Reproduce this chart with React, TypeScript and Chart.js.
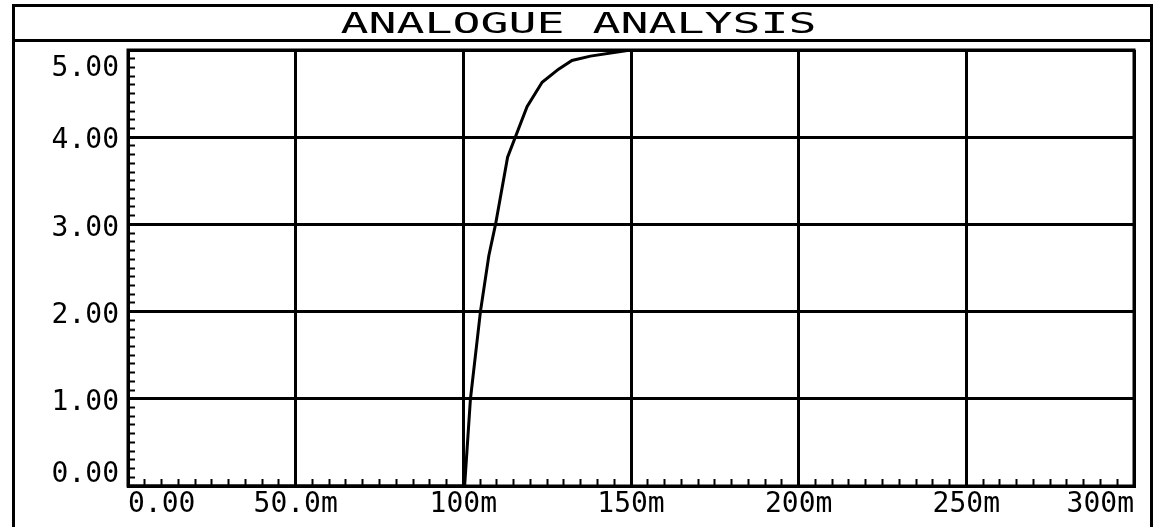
import { useEffect, useRef } from 'react';
import { Chart, registerables } from 'chart.js';

Chart.register(...registerables);

const TITLE = 'ANALOGUE ANALYSIS';

// time in ms, voltage in V
const timeMs = [0, 100, 100.4, 102.1, 105.1, 107.6, 109.6, 113.2, 119.0, 123.5, 128.4, 132.4, 137.9, 149.9, 175, 200, 250, 300];
const volts = [0, 0, 0.01, 0.99, 2.0, 2.64, 3.0, 3.77, 4.35, 4.63, 4.78, 4.88, 4.93, 5.0, 5.0, 5.0, 5.0, 5.0];

const xTickValues = [0, 50, 100, 150, 200, 250, 300];
const xTickLabels = ['0.00', '50.0m', '100m', '150m', '200m', '250m', '300m'];
const yTickValues = [0, 1, 2, 3, 4, 5];
const yTickLabels = ['0.00', '1.00', '2.00', '3.00', '4.00', '5.00'];

const FONT_FAMILY = '"DejaVu Sans Mono", monospace';
const FONT_SIZE = 28;

function findMajor(values: number[], v: number) {
  return values.findIndex((m) => Math.abs(m - v) < 1e-6);
}

const framePlugin = {
  id: 'proteusFrame',
  afterDraw(chart: any) {
    const { ctx, chartArea: a, height } = chart;
    ctx.save();
    ctx.strokeStyle = '#000';
    ctx.lineWidth = 3;
    ctx.beginPath();
    ctx.moveTo(13.5, height + 3);
    ctx.lineTo(13.5, 5.5);
    ctx.lineTo(1151.5, 5.5);
    ctx.lineTo(1151.5, height + 3);
    ctx.moveTo(13.5, 40.5);
    ctx.lineTo(1151.5, 40.5);
    ctx.stroke();
    ctx.strokeRect(a.left, a.top, a.right - a.left, a.bottom - a.top);
    ctx.font = '29px "DejaVu Sans Mono", monospace';
    ctx.fillStyle = '#000';
    ctx.textBaseline = 'alphabetic';
    ctx.textAlign = 'center';
    const w = ctx.measureText(TITLE).width;
    ctx.translate(578.5, 33);
    ctx.scale(476 / w, 1);
    ctx.fillText(TITLE, 0, 0);
    ctx.restore();
  },
};

export default function App() {
  const ref = useRef<HTMLCanvasElement | null>(null);
  useEffect(() => {
    if (!ref.current) return;
    const chart = new Chart(ref.current, {
      type: 'line',
      data: {
        datasets: [
          {
            data: timeMs.map((t, i) => ({ x: t, y: volts[i] })),
            borderColor: '#000',
            borderWidth: 3,
            pointRadius: 0,
            tension: 0,
            fill: false,
          },
        ],
      },
      options: {
        animation: false,
        responsive: false,
        devicePixelRatio: 1,
        layout: { padding: { left: 0, top: 50, right: 21, bottom: 0 } },
        plugins: { legend: { display: false }, tooltip: { enabled: false }, title: { display: false } },
        scales: {
          x: {
            type: 'linear',
            min: 0,
            max: 300,
            afterFit: (s: any) => {
              s.height = 41;
              s.paddingLeft = 0;
              s.paddingRight = 0;
            },
            ticks: {
              stepSize: 5,
              autoSkip: false,
              maxRotation: 0,
              align: 'inner',
              padding: 12,
              color: '#000',
              font: { family: FONT_FAMILY, size: FONT_SIZE, lineHeight: 1 },
              callback: (v: any) => {
                const i = findMajor(xTickValues, Number(v));
                return i >= 0 ? xTickLabels[i] : '';
              },
            },
            grid: {
              color: (c: any) => (findMajor(xTickValues, c.tick?.value) >= 0 ? '#000' : 'rgba(0,0,0,0)'),
              lineWidth: 3,
              tickColor: '#000',
              tickLength: -7,
              tickWidth: 2,
            },
            border: { display: true, color: '#000', width: 3 },
          },
          y: {
            type: 'linear',
            min: 0,
            max: 5,
            afterFit: (s: any) => {
              s.width = 128;
              s.paddingTop = 0;
              s.paddingBottom = 0;
            },
            ticks: {
              stepSize: 0.1,
              autoSkip: false,
              padding: 16,
              color: '#000',
              font: (c: any) => {
                const i = findMajor(yTickValues, c.tick?.value);
                let lh = 8;
                if (i === yTickValues.length - 1) lh = 37;
                else if (i === 0) lh = 22;
                return { family: FONT_FAMILY, size: FONT_SIZE, lineHeight: lh / FONT_SIZE };
              },
              callback: (v: any) => {
                const i = findMajor(yTickValues, Number(v));
                if (i < 0) return '';
                if (i === 0) return [yTickLabels[i], ''];
                return ['', yTickLabels[i]];
              },
            },
            grid: {
              color: (c: any) => (findMajor(yTickValues, c.tick?.value) >= 0 ? '#000' : 'rgba(0,0,0,0)'),
              lineWidth: 3,
              tickColor: '#000',
              tickLength: -7,
              tickWidth: 2,
            },
            border: { display: true, color: '#000', width: 3 },
          },
        },
      },
      plugins: [framePlugin],
    } as any);
    return () => chart.destroy();
  }, []);
  return (
    <div style={{ position: 'absolute', left: 0, top: 0, width: 1155, height: 527, background: '#fff' }}>
      <canvas ref={ref} width={1155} height={527} style={{ display: 'block' }} />
    </div>
  );
}
